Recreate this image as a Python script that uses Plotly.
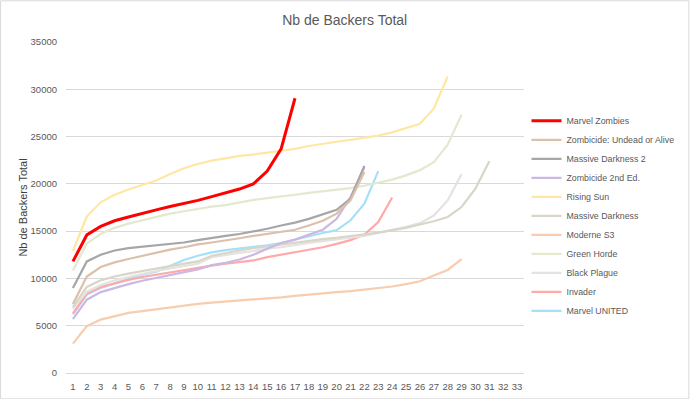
import plotly.graph_objects as go

categories = list(range(1, 34))

marvel_zombies = [11800, 14600, 15500, 16100, 16500, 16900, 17250, 17600, 17900, 18250, 18650, 19050, 19450, 20000, 21350, 23700, 29050]
undead_or_alive = [7300, 10200, 11200, 11700, 12050, 12400, 12700, 13050, 13300, 13600, 13800, 14000, 14250, 14500, 14700, 14950, 15150, 15600, 16100, 16850, 18250, 21250]
massive_darkness_2 = [9000, 11800, 12500, 12950, 13200, 13350, 13450, 13600, 13800, 14050, 14300, 14500, 14700, 14950, 15250, 15600, 15900, 16300, 16750, 17250, 18450, 21900]
zombicide_2nd = [5700, 7750, 8550, 9000, 9400, 9750, 10050, 10350, 10650, 10950, 11400, 11650, 12000, 12500, 13150, 13750, 14100, 14650, 15150, 16300, 18600, 21750]
rising_sun = [12900, 16550, 18050, 18850, 19400, 19850, 20350, 21050, 21650, 22100, 22450, 22700, 22950, 23100, 23300, 23450, 23700, 24000, 24250, 24450, 24650, 24900, 25100, 25450, 25900, 26350, 27950, 31350]
massive_darkness = [7000, 9100, 9800, 10200, 10500, 10800, 11050, 11300, 11550, 11800, 12400, 12700, 12950, 13200, 13400, 13550, 13750, 13950, 14150, 14300, 14450, 14650, 14850, 15100, 15350, 15700, 16050, 16500, 17550, 19500, 22400]
moderne_s3 = [3100, 4950, 5650, 6000, 6350, 6550, 6750, 6950, 7100, 7300, 7450, 7550, 7650, 7750, 7900, 8000, 8150, 8300, 8400, 8550, 8650, 8800, 8950, 9150, 9400, 9700, 10300, 10900, 12050]
green_horde = [10850, 13700, 14700, 15350, 15800, 16150, 16500, 16850, 17100, 17350, 17600, 17750, 18050, 18300, 18500, 18650, 18850, 19050, 19200, 19400, 19550, 19800, 20100, 20450, 20900, 21450, 22300, 24150, 27300]
black_plague = [6800, 8600, 9300, 9800, 10150, 10500, 10800, 11050, 11300, 11550, 12250, 12500, 12700, 12900, 13150, 13300, 13550, 13750, 13950, 14100, 14300, 14500, 14800, 15150, 15450, 15850, 16650, 18250, 21050]
invader = [6300, 8400, 9100, 9500, 9850, 10150, 10400, 10650, 10900, 11150, 11350, 11550, 11750, 11900, 12250, 12500, 12750, 13050, 13300, 13650, 14050, 14650, 15950, 18550]
marvel_united = [6200, 8300, 9000, 9450, 9950, 10400, 10700, 11350, 11950, 12400, 12750, 13000, 13150, 13300, 13500, 13750, 14100, 14500, 14800, 15100, 16150, 17900, 21350]

series_names = ["Marvel Zombies", "Zombicide: Undead or Alive", "Massive Darkness 2", "Zombicide 2nd Ed.",
                "Rising Sun", "Massive Darkness", "Moderne S3", "Green Horde", "Black Plague", "Invader", "Marvel UNITED"]
series_values = [marvel_zombies, undead_or_alive, massive_darkness_2, zombicide_2nd, rising_sun, massive_darkness,
                 moderne_s3, green_horde, black_plague, invader, marvel_united]
series_colors = ["#FF0000", "#DCC0AB", "#A6A6A6", "#CBB8E3", "#FFE7A3", "#D9D6C7", "#F8CCAE", "#E1EACF",
                 "#E3E3E3", "#FFA9A9", "#A6E0F6"]
series_widths = [3, 2.2, 2.2, 2.2, 2.2, 2.2, 2.2, 2.2, 2.2, 2.2, 2.2]

fig = go.Figure()
for name, vals, col, w in reversed(list(zip(series_names, series_values, series_colors, series_widths))):
    fig.add_trace(go.Scatter(
        x=categories[:len(vals)], y=vals, name=name, mode="lines",
        line=dict(color=col, width=w),
    ))

font_family = "Liberation Sans, Arial, sans-serif"
grid_col = "#D9D9D9"
txt_col = "#595959"

PL, PR, PT, PB = 66, 524.5, 41.7, 372.7
PW, PH = PR - PL, PB - PT

fig.update_layout(
    width=690, height=399,
    margin=dict(l=PL, r=690 - PR, t=PT, b=399 - PB, autoexpand=False),
    paper_bgcolor="white", plot_bgcolor="white",
    title=dict(text="Nb de Backers Total", x=(345 - PL) / PW, xref="paper", xanchor="center",
               y=1 - 20 / 399, yanchor="middle", font=dict(family=font_family, size=14, color=txt_col)),
    showlegend=True,
    legend=dict(traceorder="reversed", x=(527 - PL) / PW, xanchor="left", y=(PB - 106) / PH, yanchor="top",
                font=dict(family=font_family, size=8.8, color=txt_col),
                bgcolor="rgba(0,0,0,0)", tracegroupgap=0, itemwidth=30),
    xaxis=dict(range=[0.5, 33.5], tickmode="array", tickvals=categories, ticktext=[str(c) for c in categories],
               showgrid=False, showline=True, linecolor=grid_col, linewidth=1, ticks="", ticklabelstandoff=5,
               tickfont=dict(family=font_family, size=9.5, color=txt_col), zeroline=False, fixedrange=True),
    yaxis=dict(range=[0, 35000], dtick=5000, tickformat="d", showgrid=True, gridcolor=grid_col, gridwidth=1,
               zeroline=False, showline=False, ticks="", ticklabelstandoff=8,
               tickfont=dict(family=font_family, size=9.5, color=txt_col),
               title=dict(text="Nb de Backers Total", font=dict(family=font_family, size=11, color="#404040"),
                          standoff=0), fixedrange=True),
    shapes=[dict(type="rect", xref="paper", yref="paper",
                 x0=(0.5 - PL) / PW, x1=(689.5 - PL) / PW,
                 y0=-(399 - 0.5 - PB) / PH, y1=1 + (PT - 0.5) / PH,
                 line=dict(color="#D9D9D9", width=1), fillcolor="rgba(0,0,0,0)", layer="below")],
)

fig.write_html("out.html", config={"displayModeBar": False},
               post_script="document.body.style.margin='0';document.body.style.overflow='hidden';")
